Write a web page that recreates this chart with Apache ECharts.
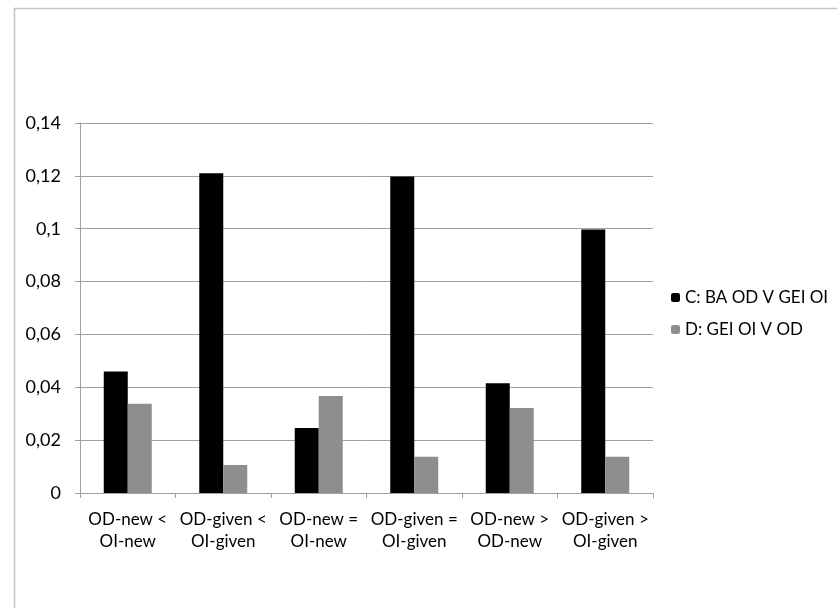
<!DOCTYPE html>
<html>
<head>
<meta charset="utf-8">
<script src="https://cdn.jsdelivr.net/npm/echarts@6/dist/echarts.min.js"></script>
<style>html,body{margin:0;padding:0;background:#fff;}#c{width:837px;height:608px;}</style>
</head>
<body>
<div id="c"></div>
<script>
var categories = ["OD-new <\nOI-new", "OD-given <\nOI-given", "OD-new =\nOI-new", "OD-given =\nOI-given", "OD-new >\nOD-new", "OD-given >\nOI-given"];
var seriesC = [0.046, 0.121, 0.0246, 0.1198, 0.0415, 0.0997];
var seriesD = [0.0338, 0.0106, 0.0367, 0.0137, 0.0322, 0.0137];
var seriesNames = ["C: BA OD V GEI OI", "D: GEI OI V OD"];
var yTicks = { min: 0, max: 0.14, interval: 0.02 };

var font = "Lato, 'Open Sans', sans-serif";
var chart = echarts.init(document.getElementById('c'), null, {renderer: 'canvas'});
chart.setOption({
  backgroundColor: '#fff',
  animation: false,
  graphic: [{
    type: 'rect', left: 12, top: 6, silent: true,
    shape: { x: 0, y: 0, width: 900, height: 700 },
    style: { fill: 'none', stroke: '#c3c3c3', lineWidth: 1.5 }
  }],
  grid: { left: 80, right: 184, top: 123, bottom: 115, containLabel: false },
  legend: {
    orient: 'vertical', left: 666, top: 284,
    itemWidth: 9, itemHeight: 9, itemGap: 15,
    textStyle: { fontFamily: font, fontSize: 17, color: '#000' },
    data: seriesNames
  },
  xAxis: {
    type: 'category', data: categories,
    axisLine: { lineStyle: { color: '#a0a0a0', width: 1 } },
    axisTick: { show: true, length: 5, lineStyle: { color: '#a0a0a0' } },
    axisLabel: { fontFamily: font, fontSize: 17, color: '#000', lineHeight: 22, margin: 16, interval: 0 }
  },
  yAxis: {
    type: 'value', min: yTicks.min, max: yTicks.max, interval: yTicks.interval,
    axisLine: { show: true, lineStyle: { color: '#a0a0a0' } },
    axisTick: { show: true, length: 5, lineStyle: { color: '#a0a0a0' } },
    splitLine: { lineStyle: { color: '#a0a0a0' } },
    axisLabel: { fontFamily: font, fontSize: 18, color: '#000', margin: 19,
      formatter: function (v) { return String(+v.toFixed(4)).replace('.', ','); } }
  },
  series: [
    { name: seriesNames[0], type: 'bar', data: seriesC, barWidth: 24, barGap: '0%', itemStyle: { color: '#000' } },
    { name: seriesNames[1], type: 'bar', data: seriesD, barWidth: 24, barGap: '0%', itemStyle: { color: '#8e8e8e' } }
  ]
});
</script>
</body>
</html>
